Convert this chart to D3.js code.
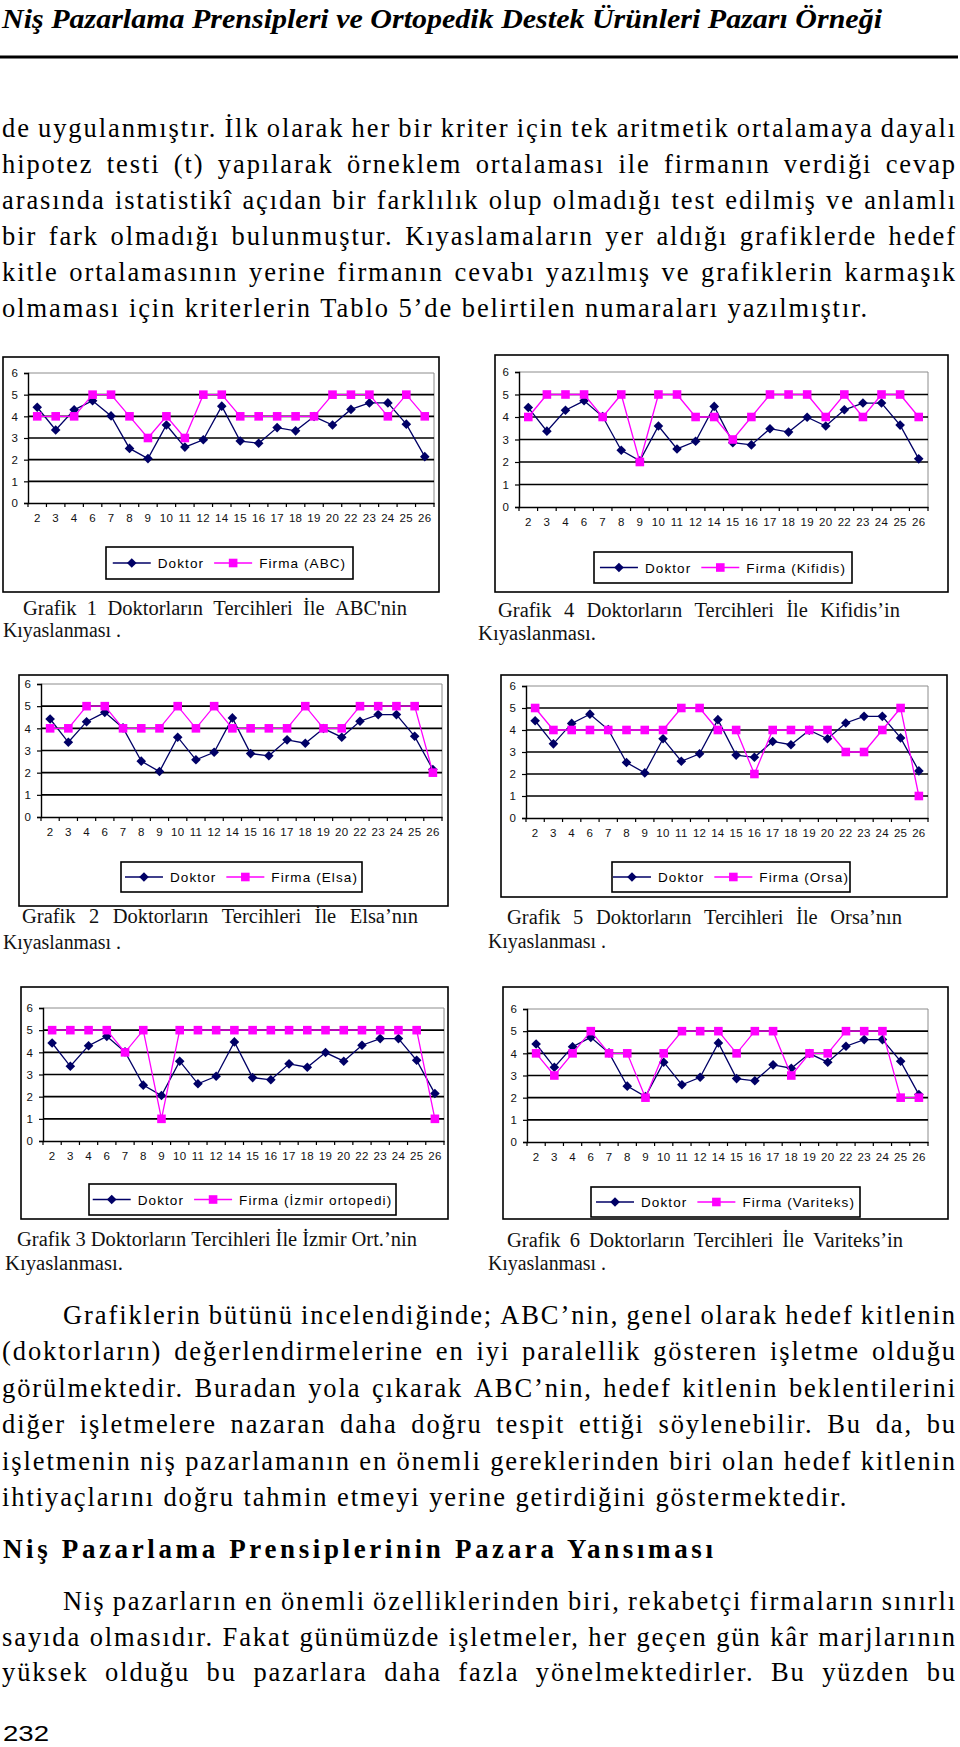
<!DOCTYPE html>
<html><head><meta charset="utf-8">
<script src="https://cdn.jsdelivr.net/npm/d3@7"></script>
<style>html,body{margin:0;padding:0;background:#fff}svg{display:block}</style>
</head><body>
<svg id="page" width="960" height="1747"></svg>
<script>
// ---------------- DATA ----------------
const categories = ["2","3","4","6","7","8","9","10","11","12","14","15","16","17","18","19","20","22","23","24","25","26"];
const yTickValues = [0,1,2,3,4,5,6];
const doktor        = [4.42,3.37,4.30,4.72,4.02,2.52,2.05,3.60,2.58,2.92,4.47,2.86,2.76,3.48,3.33,3.99,3.60,4.32,4.62,4.62,3.64,2.14];
const firmaABC      = [4,4,4,5,5,4,3,4,3,5,5,4,4,4,4,4,5,5,5,4,5,4];
const firmaElsa     = [4,4,5,5,4,4,4,5,4,5,4,4,4,4,5,4,4,5,5,5,5,2];
const firmaIzmir    = [5,5,5,5,4,5,1,5,5,5,5,5,5,5,5,5,5,5,5,5,5,1];
const firmaKifidis  = [4,5,5,5,4,5,2,5,5,4,4,3,4,5,5,5,4,5,4,5,5,4];
const firmaOrsa     = [5,4,4,4,4,4,4,4,5,5,4,4,2,4,4,4,4,3,3,4,5,1];
const firmaVariteks = [4,3,4,5,4,4,2,4,5,5,5,4,5,5,3,4,4,5,5,5,2,2];
const doktorLabel = "Doktor";
const firmaLabels = ["Firma (ABC)","Firma (Kifidis)","Firma (Elsa)","Firma (Orsa)","Firma (İzmir ortopedi)","Firma (Variteks)"];
const captionFirst = [
  "Grafik 1 Doktorların Tercihleri İle ABC'nin",
  "Grafik 4 Doktorların Tercihleri İle Kifidis’in",
  "Grafik 2 Doktorların Tercihleri İle Elsa’nın",
  "Grafik 5 Doktorların Tercihleri İle Orsa’nın",
  "Grafik 3 Doktorların Tercihleri İle İzmir Ort.’nin",
  "Grafik 6 Doktorların Tercihleri İle Variteks’in"
];
const captionSecond = ["Kıyaslanması .","Kıyaslanması.","Kıyaslanması .","Kıyaslanması .","Kıyaslanması.","Kıyaslanması ."];
const headerText = "Niş Pazarlama Prensipleri ve Ortopedik Destek Ürünleri Pazarı Örneği";
const para1 = [
  "de uygulanmıştır. İlk olarak her bir kriter için tek aritmetik ortalamaya dayalı",
  "hipotez testi (t) yapılarak örneklem ortalaması ile firmanın verdiği cevap",
  "arasında istatistikî açıdan bir farklılık olup olmadığı test edilmiş ve anlamlı",
  "bir fark olmadığı bulunmuştur. Kıyaslamaların yer aldığı grafiklerde hedef",
  "kitle ortalamasının yerine firmanın cevabı yazılmış ve grafiklerin karmaşık",
  "olmaması için kriterlerin Tablo 5’de belirtilen numaraları yazılmıştır."
];
const para2 = [
  "Grafiklerin bütünü incelendiğinde; ABC’nin, genel olarak hedef kitlenin",
  "(doktorların) değerlendirmelerine en iyi paralellik gösteren işletme olduğu",
  "görülmektedir. Buradan yola çıkarak ABC’nin, hedef kitlenin beklentilerini",
  "diğer işletmelere nazaran daha doğru tespit ettiği söylenebilir. Bu da, bu",
  "işletmenin niş pazarlamanın en önemli gereklerinden biri olan hedef kitlenin",
  "ihtiyaçlarını doğru tahmin etmeyi yerine getirdiğini göstermektedir."
];
const headingText = "Niş Pazarlama Prensiplerinin Pazara Yansıması";
const para3 = [
  "Niş pazarların en önemli özelliklerinden biri, rekabetçi firmaların sınırlı",
  "sayıda olmasıdır. Fakat günümüzde işletmeler, her geçen gün kâr marjlarının",
  "yüksek olduğu bu pazarlara daha fazla yönelmektedirler. Bu yüzden bu"
];
const pageNumber = "232";

// ---------------- LAYOUT ----------------
const chartSeries = [firmaABC, firmaKifidis, firmaElsa, firmaOrsa, firmaIzmir, firmaVariteks];
const chartLayout = [
  {frame:[3,357,439,592],   plot:[28,373,434,503],   legend:[106,547,353,579],  c1:[23,407,615],  c2:[3,637]},
  {frame:[495,355,948,592], plot:[519,372,928,507],  legend:[594,552,852,583],  c1:[498,900,617], c2:[478,640]},
  {frame:[19,675,448,906],  plot:[41,684,442,817],   legend:[121,862,362,892],  c1:[22,418,923],  c2:[3,949]},
  {frame:[501,675,947,897], plot:[526,686,928,818],  legend:[612,862,850,892],  c1:[507,902,924], c2:[488,948]},
  {frame:[21,987,448,1219], plot:[43,1008,444,1141], legend:[89,1184,396,1215], c1:[17,417,1246], c2:[5,1270]},
  {frame:[503,987,948,1219],plot:[527,1009,928,1142],legend:[591,1187,860,1217],c1:[507,903,1247],c2:[488,1270]}
];

const svg = d3.select("#page");
const canvas = document.createElement("canvas");
const ctx = canvas.getContext("2d");
function textWidth(str, font){ ctx.font = font; return ctx.measureText(str).width; }
const serifFam = "'Liberation Serif', 'Times New Roman', serif";
const sansFam = "'Liberation Sans', Arial, sans-serif";

// justified / plain line drawing with word tspans
function drawLine(str, x1, x2, y, o){
  const font = `${o.style||"normal"} ${o.weight||"normal"} ${o.size}px ${o.family}`;
  const words = str.split(" ");
  let ls = o.ls || 0;
  const nat = words.map(w => textWidth(w, font));
  const spaceW = textWidth(" ", font);
  let gap;
  const wsum = () => d3.sum(words, (w,i) => nat[i] + ls*w.length);
  if (o.justify && words.length > 1){
    gap = (x2 - x1 - wsum())/(words.length-1);
    const minGap = spaceW*0.7;
    if (gap < minGap){
      const chars = d3.sum(words, w => w.length);
      ls = (x2 - x1 - minGap*(words.length-1) - d3.sum(nat))/chars;
      gap = minGap;
    }
  } else {
    gap = spaceW + ls;
  }
  const t = svg.append("text").attr("y", y)
    .attr("font-family", o.family).attr("font-size", o.size)
    .attr("font-weight", o.weight||"normal").attr("font-style", o.style||"normal")
    .attr("letter-spacing", ls).attr("fill", o.fill||"#000");
  let x = x1;
  words.forEach((w,i) => {
    t.append("tspan").attr("x", x).text(w);
    x += nat[i] + ls*w.length + gap;
  });
  return t;
}

// ---------------- HEADER ----------------
svg.append("text").attr("x", 2).attr("y", 28)
  .attr("textLength", 880).attr("lengthAdjust", "spacingAndGlyphs")
  .attr("font-family", serifFam).attr("font-size", 28)
  .attr("font-weight", "bold").attr("font-style", "italic").text(headerText);
svg.append("line").attr("x1", 0).attr("x2", 958).attr("y1", 57).attr("y2", 57)
  .attr("stroke", "#000").attr("stroke-width", 3);

// ---------------- BODY TEXT ----------------
const bodySize = 26.5;
const bodyFont = `normal normal ${bodySize}px ${serifFam}`;
const lastLine = para1[para1.length-1];
const bodyLS = Math.max(0, (869 - 2 - textWidth(lastLine, bodyFont)) / lastLine.length);
const bodyOpt = {family: serifFam, size: bodySize, ls: bodyLS};

para1.forEach((l,i) => drawLine(l, 2, 957, 137 + 36*i, Object.assign({justify: i < para1.length-1}, bodyOpt)));
para2.forEach((l,i) => drawLine(l, i===0 ? 63 : 2, 957, 1324 + 36.4*i, Object.assign({justify: i < para2.length-1}, bodyOpt)));
svg.append("text").attr("x", 3).attr("y", 1558)
  .attr("textLength", 710).attr("lengthAdjust", "spacing")
  .attr("font-family", serifFam).attr("font-size", 27).attr("font-weight", "bold")
  .text(headingText);
para3.forEach((l,i) => drawLine(l, i===0 ? 63 : 2, 957, 1610 + 35.6*i, Object.assign({justify: true}, bodyOpt)));
svg.append("text").attr("x", 3).attr("y", 1741)
  .attr("textLength", 46).attr("lengthAdjust", "spacingAndGlyphs")
  .attr("font-family", sansFam).attr("font-size", 22)
  .text(pageNumber);

// ---------------- CHARTS ----------------
const navy = "#000066", magenta = "#ff00ff";
const diamond = "M0,-4.8L4.8,0L0,4.8L-4.8,0Z";
const square = "M-4.3,-4.3H4.3V4.3H-4.3Z";

chartLayout.forEach((L, ci) => {
  const firma = chartSeries[ci];
  const g = svg.append("g");
  const [fx0, fy0, fx1, fy1] = L.frame;
  const [px0, py0, px1, py1] = L.plot;
  g.append("rect").attr("x", fx0).attr("y", fy0).attr("width", fx1-fx0).attr("height", fy1-fy0)
    .attr("fill", "#fff").attr("stroke", "#000").attr("stroke-width", 1.6);

  const x = d3.scaleBand().domain(categories).range([px0, px1]);
  const y = d3.scaleLinear().domain([0, 6]).range([py1, py0]);
  const cx = c => x(c) + x.bandwidth()/2;

  g.append("line").attr("x1", px0).attr("x2", px1).attr("y1", y(6)).attr("y2", y(6)).attr("stroke", "#8c8c8c").attr("stroke-width", 1);
  g.append("line").attr("x1", px1).attr("x2", px1).attr("y1", y(6)).attr("y2", y(0)).attr("stroke", "#8c8c8c").attr("stroke-width", 1);
  g.selectAll(".grid").data(yTickValues.filter(v => v > 0 && v < 6)).enter().append("line")
    .attr("x1", px0).attr("x2", px1).attr("y1", d => y(d)).attr("y2", d => y(d))
    .attr("stroke", "#000").attr("stroke-width", 1.6);

  const yAxis = g.append("g").attr("transform", `translate(${px0},0)`)
    .call(d3.axisLeft(y).tickValues(yTickValues).tickSize(4).tickPadding(6).tickFormat(d3.format("d")));
  yAxis.select(".domain").attr("stroke", "#000").attr("stroke-width", 1.4);
  yAxis.selectAll(".tick line").attr("stroke", "#000").attr("stroke-width", 1.2);
  yAxis.selectAll(".tick text").attr("font-family", sansFam).attr("font-size", 11.5).attr("fill", "#111");

  const xAxis = g.append("g").attr("transform", `translate(0,${py1})`)
    .call(d3.axisBottom(x).tickSize(0).tickPadding(11));
  xAxis.select(".domain").attr("stroke", "#000").attr("stroke-width", 1.4);
  xAxis.selectAll(".tick text").attr("font-family", sansFam).attr("font-size", 11.5)
    .attr("letter-spacing", 0.3).attr("fill", "#111");
  const bounds = categories.map(c => x(c)).concat([px1]);
  g.selectAll(".xt").data(bounds).enter().append("line")
    .attr("x1", d => d).attr("x2", d => d).attr("y1", py1).attr("y2", py1 + 4)
    .attr("stroke", "#000").attr("stroke-width", 1.2);

  const line = vals => d3.line().x((d,i) => cx(categories[i])).y(d => y(d))(vals);
  g.append("path").attr("d", line(doktor)).attr("fill", "none").attr("stroke", navy).attr("stroke-width", 1.3);
  g.selectAll(".dk").data(doktor).enter().append("path")
    .attr("d", diamond).attr("transform", (d,i) => `translate(${cx(categories[i])},${y(d)})`).attr("fill", navy);
  g.append("path").attr("d", line(firma)).attr("fill", "none").attr("stroke", magenta).attr("stroke-width", 1.3);
  g.selectAll(".fm").data(firma).enter().append("path")
    .attr("d", square).attr("transform", (d,i) => `translate(${cx(categories[i])},${y(d)})`).attr("fill", magenta);

  const [lx0, ly0, lx1, ly1] = L.legend;
  g.append("rect").attr("x", lx0).attr("y", ly0).attr("width", lx1-lx0).attr("height", ly1-ly0)
    .attr("fill", "#fff").attr("stroke", "#000").attr("stroke-width", 1.6);
  const lf = `normal normal 13.5px ${sansFam}`;
  const lls = 1.1;
  const w1 = textWidth(doktorLabel, lf) + lls*doktorLabel.length;
  const w2 = textWidth(firmaLabels[ci], lf) + lls*firmaLabels[ci].length;
  const sample = 38, gapT = 7, gapI = 10;
  const total = sample + gapT + w1 + gapI + sample + gapT + w2;
  let sx = (lx0 + lx1)/2 - total/2;
  const lyc = (ly0 + ly1)/2;
  const items = [
    {label: doktorLabel, color: navy, marker: diamond, w: w1},
    {label: firmaLabels[ci], color: magenta, marker: square, w: w2}
  ];
  items.forEach(it => {
    g.append("line").attr("x1", sx).attr("x2", sx + sample).attr("y1", lyc).attr("y2", lyc)
      .attr("stroke", it.color).attr("stroke-width", 1.3);
    g.append("path").attr("d", it.marker).attr("transform", `translate(${sx + sample/2},${lyc})`).attr("fill", it.color);
    g.append("text").attr("x", sx + sample + gapT).attr("y", lyc + 5)
      .attr("font-family", sansFam).attr("font-size", 13.5).attr("letter-spacing", lls)
      .attr("fill", "#000").text(it.label);
    sx += sample + gapT + it.w + gapI;
  });

  const capO = {family: serifFam, size: 20.5, justify: true, fill: "#111"};
  drawLine(captionFirst[ci], L.c1[0], L.c1[1], L.c1[2], capO);
  svg.append("text").attr("x", L.c2[0]).attr("y", L.c2[1])
    .attr("textLength", 118).attr("lengthAdjust", "spacingAndGlyphs")
    .attr("font-family", serifFam).attr("font-size", 20.5).attr("fill", "#111")
    .text(captionSecond[ci]);
});
</script>
</body></html>
